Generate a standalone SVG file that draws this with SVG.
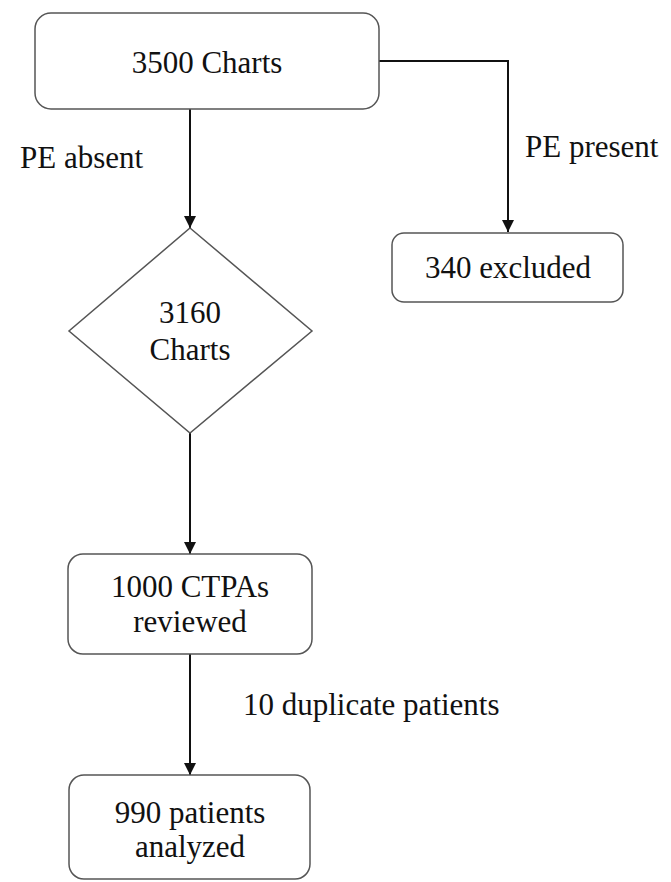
<svg xmlns="http://www.w3.org/2000/svg" width="671" height="882" viewBox="0 0 671 882">
<style>
.box{fill:#fff;stroke:#555;stroke-width:1.5}
text{font-family:'Liberation Serif','Times New Roman',Times,'DejaVu Serif',serif;font-size:31px;fill:#111}
.t{text-anchor:middle}
.c{fill:none;stroke:#111;stroke-width:2}
</style>
<defs>
<marker id="ah" markerWidth="12" markerHeight="12" viewBox="0 0 12 12" refX="12" refY="6" orient="auto" markerUnits="userSpaceOnUse">
<path d="M0,0 L12,6 L0,12 Z" fill="#111"/>
</marker>
</defs>
<rect width="671" height="882" fill="#fff"/>
<g id="connectors">
<path class="c" d="M379,61 H508 V232" marker-end="url(#ah)"/>
<path class="c" d="M190,109 V228" marker-end="url(#ah)"/>
<path class="c" d="M190,433 V554" marker-end="url(#ah)"/>
<path class="c" d="M190,654 V775" marker-end="url(#ah)"/>
</g>
<g id="n3500">
<rect class="box" x="35" y="13" width="344" height="96" rx="16"/>
<text class="t" x="207" y="73" font-family="Liberation Serif, serif">3500 Charts</text>
</g>
<g id="n340">
<rect class="box" x="392" y="233" width="231" height="69" rx="12"/>
<text class="t" x="508" y="278" font-family="Liberation Serif, serif">340 excluded</text>
</g>
<g id="n3160">
<polygon class="box" points="190,228 312,331 190,433 69,331"/>
<text class="t" x="190" y="323" font-family="Liberation Serif, serif">3160</text>
<text class="t" x="190" y="360" font-family="Liberation Serif, serif">Charts</text>
</g>
<g id="n1000">
<rect class="box" x="68" y="554" width="244" height="100" rx="15"/>
<text class="t" x="190" y="597" font-family="Liberation Serif, serif">1000 CTPAs</text>
<text class="t" x="190" y="632" font-family="Liberation Serif, serif">reviewed</text>
</g>
<g id="n990">
<rect class="box" x="69" y="775" width="241" height="104" rx="15"/>
<text class="t" x="190" y="823" font-family="Liberation Serif, serif">990 patients</text>
<text class="t" x="190" y="857" font-family="Liberation Serif, serif">analyzed</text>
</g>
<g id="labels">
<text x="20" y="168" font-family="Liberation Serif, serif">PE absent</text>
<text x="525" y="157" font-family="Liberation Serif, serif">PE present</text>
<text x="243" y="715" font-family="Liberation Serif, serif">10 duplicate patients</text>
</g>
</svg>
